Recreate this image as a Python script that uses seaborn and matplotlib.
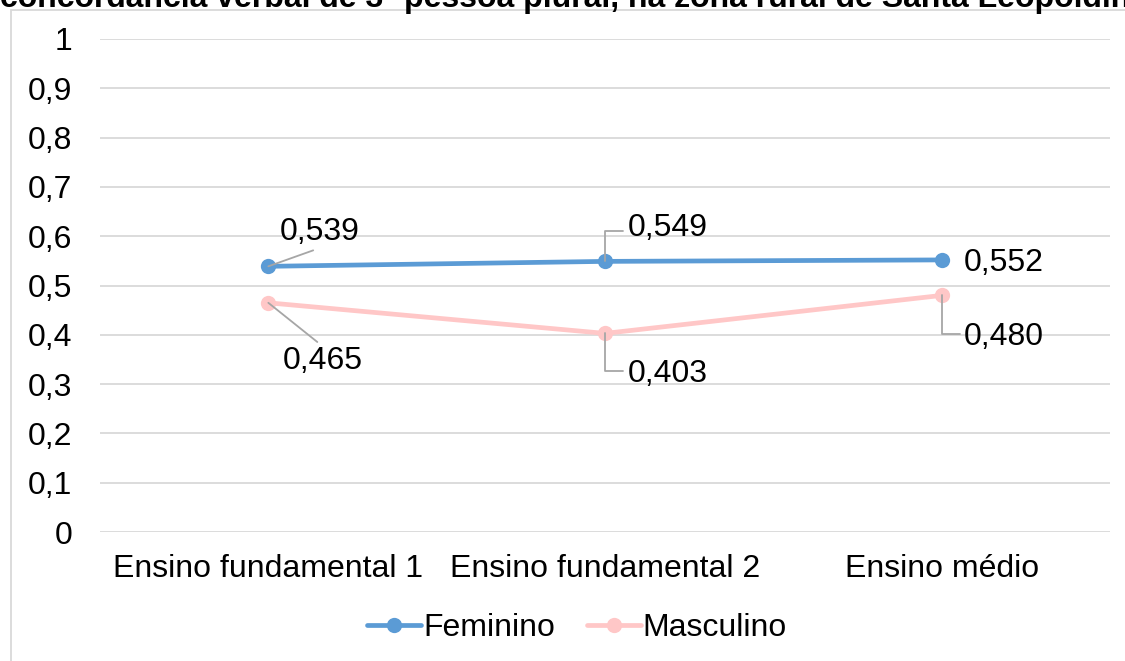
import matplotlib
matplotlib.use("Agg")
import matplotlib.pyplot as plt
from matplotlib.patches import Rectangle
import seaborn as sns
import pandas as pd

# data
niveis = ["Ensino fundamental 1", "Ensino fundamental 2", "Ensino médio"]
feminino = [0.539, 0.549, 0.552]
masculino = [0.465, 0.403, 0.480]
series = ["Feminino", "Masculino"]
cores = {"Feminino": "#5B9BD5", "Masculino": "#FFC7C7"}
titulo = "concordância verbal de 3ª pessoa plural, na zona rural de Santa Leopoldina"

df = pd.DataFrame({
    "nivel": niveis * 2,
    "valor": feminino + masculino,
    "sexo": ["Feminino"] * 3 + ["Masculino"] * 3,
})

sns.set_theme(style="white")
plt.rcParams["font.family"] = ["Liberation Sans", "DejaVu Sans"]
plt.rcParams["text.color"] = "black"
FS = 23

fig = plt.figure(figsize=(11.25, 6.61), dpi=100)
ax = fig.add_axes([100 / 1125, 0.195, 1010 / 1125, 0.746])

# chart border (partly cropped in the reference)
fig.patches.append(Rectangle((11 / 1125, -0.2), 1.5, 1.2 - 10 / 661,
                             transform=fig.transFigure, fill=False,
                             edgecolor="#D9D9D9", linewidth=1.3))

sns.lineplot(data=df, x="nivel", y="valor", hue="sexo", palette=cores,
             marker="o", markersize=11, markeredgewidth=0, linewidth=3.4,
             sort=False, ax=ax, legend=False)

ax.set_xlim(-0.5, 2.5)
ax.set_ylim(0, 1)
ax.set_yticks([i / 10 for i in range(11)])
ax.set_yticklabels(["0"] + [f"0,{i}" for i in range(1, 10)] + ["1"])
ax.grid(axis="y", color="#D9D9D9", linewidth=1.3)
ax.grid(axis="x", visible=False)
ax.set_axisbelow(True)
for s in ax.spines.values():
    s.set_visible(False)
ax.tick_params(axis="y", length=0, pad=20, labelsize=FS, labelcolor="black")
ax.tick_params(axis="x", length=0, pad=16, labelsize=FS, labelcolor="black")
ax.set_xlabel("")
ax.set_ylabel("")

# data labels with leader lines
lead = dict(arrowstyle="-", color="#A6A6A6", linewidth=1.3, shrinkA=1, shrinkB=0)
elbow = "angle,angleA=0,angleB=90,rad=0"
rotulos = [
    (0, feminino[0], (37, 25), dict(lead, relpos=(0.55, 0))),
    (0, masculino[0], (39, -42), dict(lead, relpos=(0.5, 1))),
    (1, feminino[1], (45, 24), dict(lead, relpos=(0, 0.4), connectionstyle=elbow)),
    (1, masculino[1], (45, -29), dict(lead, relpos=(0, 0.6), connectionstyle=elbow)),
    (2, feminino[2], (45, -2), None),
    (2, masculino[2], (45, -30), dict(lead, relpos=(0, 0.6), connectionstyle=elbow)),
]
for x, y, off, ap in rotulos:
    ax.annotate(f"{y:.3f}".replace(".", ","), (x, y), xytext=off,
                textcoords="offset points", ha="center", va="center",
                fontsize=FS, color="black", arrowprops=ap, zorder=5)

# legend
handles = [plt.Line2D([], [], color=cores[s], marker="o", markersize=11,
                      markeredgewidth=0, linewidth=3.4) for s in series]
fig.legend(handles, series, loc="center", bbox_to_anchor=(577 / 1125, 1 - 628 / 661),
           ncol=2, frameon=False, fontsize=FS, handlelength=1.7,
           handletextpad=0.05, columnspacing=1.0, labelcolor="black")

# title, cropped at the top edge as in the reference
fig.text(0.0, 1 - 7 / 661, titulo, fontsize=FS, fontweight="bold",
         color="black", ha="left", va="baseline")

fig.savefig("out.png", dpi=100)
